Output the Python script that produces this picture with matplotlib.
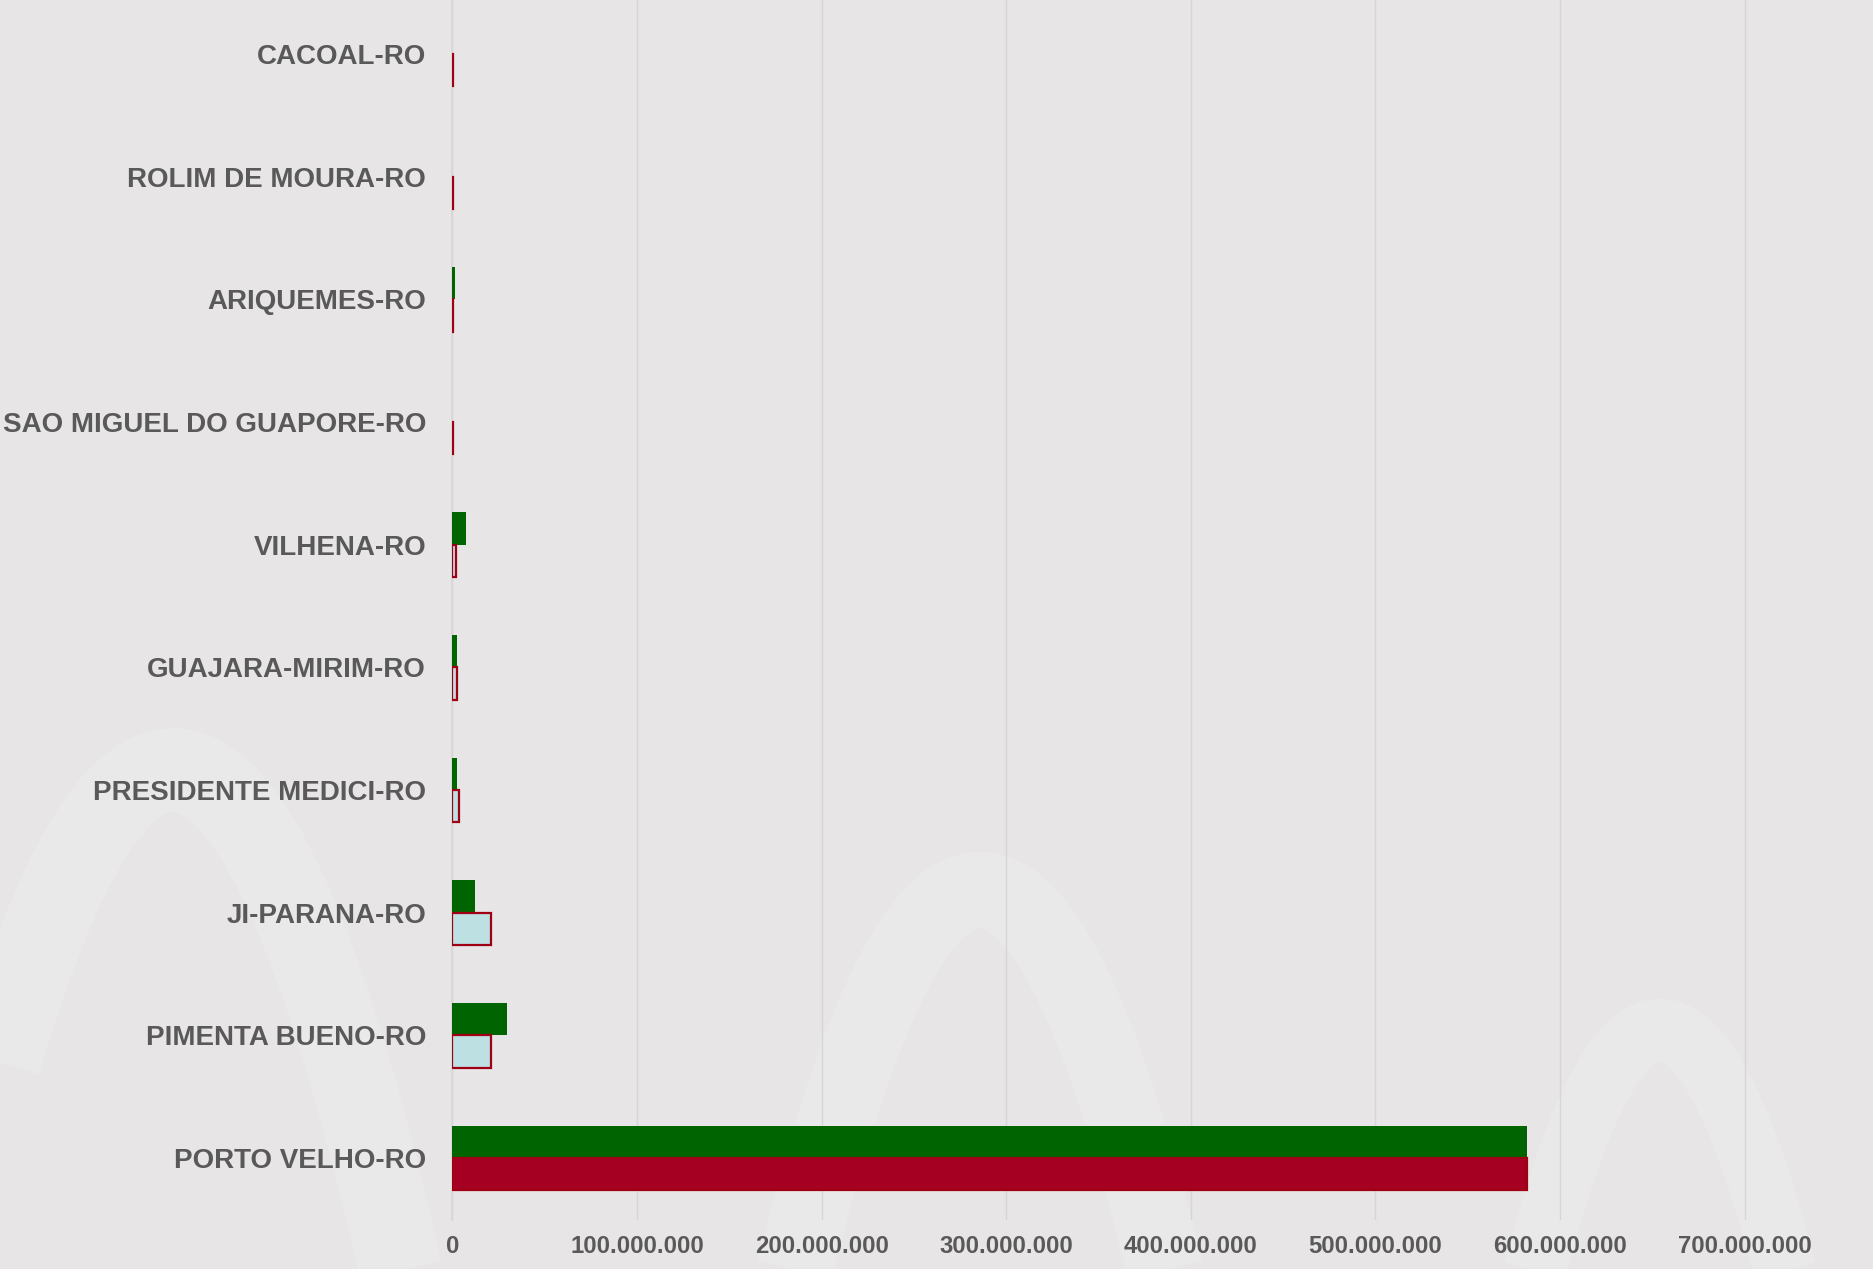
import numpy as np
import matplotlib
matplotlib.use("Agg")
import matplotlib.pyplot as plt
from matplotlib.ticker import FixedLocator, FuncFormatter

# Municipalities, top to bottom
municipios = [
    "CACOAL-RO",
    "ROLIM DE MOURA-RO",
    "ARIQUEMES-RO",
    "SAO MIGUEL DO GUAPORE-RO",
    "VILHENA-RO",
    "GUAJARA-MIRIM-RO",
    "PRESIDENTE MEDICI-RO",
    "JI-PARANA-RO",
    "PIMENTA BUENO-RO",
    "PORTO VELHO-RO",
]
serie_verde = [0.0, 0.0, 1.5e6, 0.0, 7.2e6, 2.5e6, 2.2e6, 12.3e6, 29.4e6, 581.8e6]
serie_azul = [0.2e6, 0.2e6, 0.2e6, 0.2e6, 2.0e6, 2.5e6, 3.4e6, 20.8e6, 20.7e6, 582.2e6]
destaque = "PORTO VELHO-RO"
x_ticks = [0, 100e6, 200e6, 300e6, 400e6, 500e6, 600e6, 700e6]

BG = "#e7e5e5"
GREEN = "#006400"
LIGHT = "#bde0e3"
EDGE = "#a00014"
HILITE = "#a50021"
TEXT = "#595959"

W, H = 1874, 1269
fig = plt.figure(figsize=(W / 100, H / 100), dpi=100, facecolor=BG)

# faint decorative arches in the background
bg = fig.add_axes([0, 0, 1, 1], zorder=0)
bg.set_xlim(0, W)
bg.set_ylim(H, 0)
bg.axis("off")

def arch(cx, top, half, bottom, lw):
    t = np.linspace(-1.15, 1.15, 200)
    xs = cx + half * t
    ys = top + (bottom - top) * t ** 2
    bg.plot(xs, ys, color="white", lw=lw, alpha=0.16, solid_capstyle="butt")

arch(173, 770, 230, 1280, 60)
arch(980, 890, 190, 1290, 55)
arch(1660, 1030, 130, 1290, 45)

ax = fig.add_axes([452.5 / W, (H - 1219.5) / H, (W - 452.5) / W, 1227.0 / H], zorder=1)
ax.patch.set_alpha(0)

n = len(municipios)
y = np.arange(n)
h = 0.263

ax.barh(y - h / 2, serie_verde, height=h, color=GREEN, linewidth=0, zorder=3)
fills = [HILITE if m == destaque else LIGHT for m in municipios]
ax.barh(y + h / 2, serie_azul, height=h, color=fills, edgecolor=EDGE,
        linewidth=1.6, zorder=3)

ax.set_ylim(n - 0.5, -0.5)
ax.set_xlim(0, (W - 452.5) / 184.6 * 100e6)
ax.set_yticks(y)
ax.set_yticklabels(municipios, fontsize=20.0, fontweight="bold", color=TEXT,
                   family=["Liberation Sans", "DejaVu Sans"])
ax.xaxis.set_major_locator(FixedLocator(x_ticks))
ax.xaxis.set_major_formatter(FuncFormatter(lambda v, p: f"{int(v):,}".replace(",", ".")))
for lab in ax.get_xticklabels():
    lab.set_fontsize(17.2)
    lab.set_fontweight("bold")
    lab.set_color(TEXT)
    lab.set_family(["Liberation Sans", "DejaVu Sans"])

ax.tick_params(axis="y", length=0, pad=19)
ax.tick_params(axis="x", length=0, pad=11)
ax.grid(axis="x", color="#d6d6d6", linewidth=1.0, zorder=0)
for s in ["top", "right", "bottom"]:
    ax.spines[s].set_visible(False)
ax.spines["left"].set_color("#d6d6d6")
ax.spines["left"].set_linewidth(1.2)

fig.savefig("out.png", dpi=100, facecolor=BG)
